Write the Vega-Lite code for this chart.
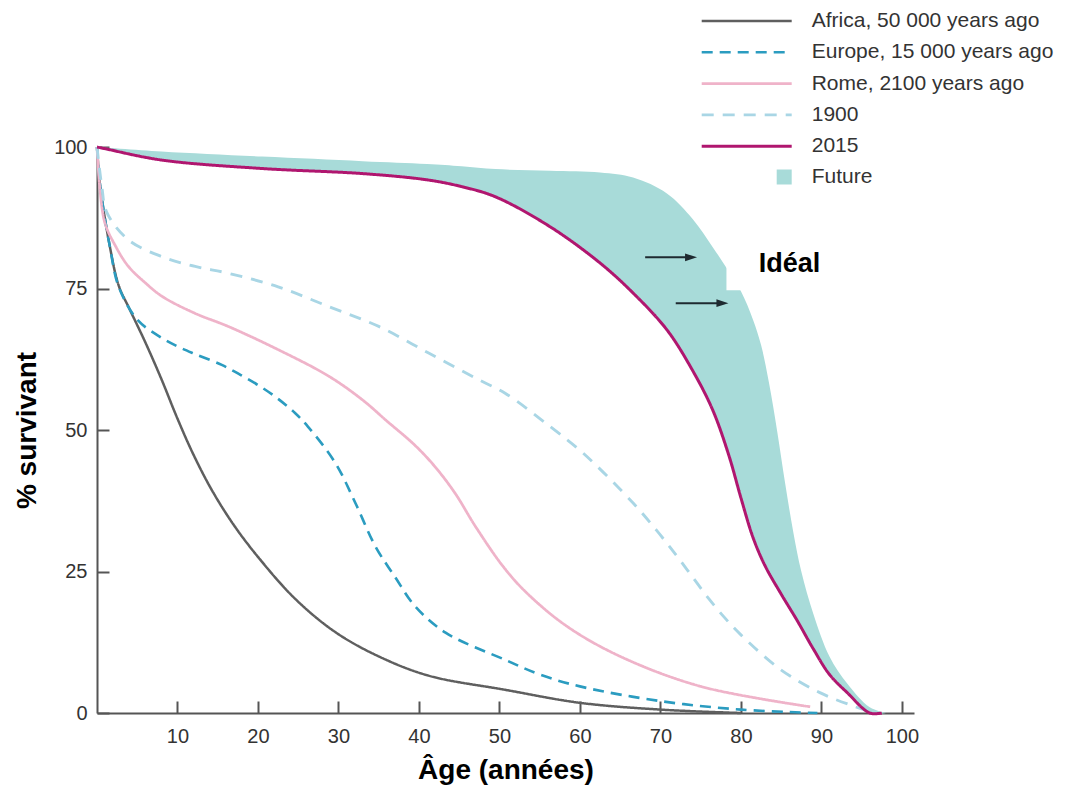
{
  "$schema": "https://vega.github.io/schema/vega-lite/v6.json",
  "width": 817,
  "height": 566,
  "autosize": "none",
  "padding": {"left": 97, "top": 147, "right": 160, "bottom": 76},
  "background": "white",
  "config": {
    "view": {"stroke": null},
    "font": "Liberation Sans",
    "axis": {
      "grid": false,
      "domainColor": "#555555",
      "domainWidth": 2,
      "tickColor": "#555555",
      "tickWidth": 2,
      "tickSize": -12,
      "labelFont": "Liberation Sans",
      "labelFontSize": 20,
      "labelColor": "#333333",
      "labelPadding": 22,
      "titleFont": "Liberation Sans",
      "titleFontSize": 28,
      "titleFontWeight": "bold",
      "titleColor": "#000000"
    }
  },
  "datasets": {
    "curves": [
      {"series": "Africa, 50 000 years ago", "age": 0, "pct": 100},
      {"series": "Africa, 50 000 years ago", "age": 0.4, "pct": 93},
      {"series": "Africa, 50 000 years ago", "age": 1.6, "pct": 82.4},
      {"series": "Africa, 50 000 years ago", "age": 2.7, "pct": 75.5},
      {"series": "Africa, 50 000 years ago", "age": 4, "pct": 71.5},
      {"series": "Africa, 50 000 years ago", "age": 6, "pct": 65.5},
      {"series": "Africa, 50 000 years ago", "age": 8, "pct": 59},
      {"series": "Africa, 50 000 years ago", "age": 10, "pct": 52},
      {"series": "Africa, 50 000 years ago", "age": 12, "pct": 45.6},
      {"series": "Africa, 50 000 years ago", "age": 14.3, "pct": 39.3},
      {"series": "Africa, 50 000 years ago", "age": 17, "pct": 33.2},
      {"series": "Africa, 50 000 years ago", "age": 20.1, "pct": 27.4},
      {"series": "Africa, 50 000 years ago", "age": 24.6, "pct": 20.2},
      {"series": "Africa, 50 000 years ago", "age": 29.6, "pct": 14.3},
      {"series": "Africa, 50 000 years ago", "age": 35, "pct": 10},
      {"series": "Africa, 50 000 years ago", "age": 41.2, "pct": 6.6},
      {"series": "Africa, 50 000 years ago", "age": 50.7, "pct": 4.1},
      {"series": "Africa, 50 000 years ago", "age": 60, "pct": 1.8},
      {"series": "Africa, 50 000 years ago", "age": 70, "pct": 0.6},
      {"series": "Africa, 50 000 years ago", "age": 80, "pct": 0},

      {"series": "Europe, 15 000 years ago", "age": 0, "pct": 100},
      {"series": "Europe, 15 000 years ago", "age": 0.4, "pct": 93},
      {"series": "Europe, 15 000 years ago", "age": 1.6, "pct": 82.4},
      {"series": "Europe, 15 000 years ago", "age": 2.7, "pct": 75.3},
      {"series": "Europe, 15 000 years ago", "age": 5, "pct": 69.5},
      {"series": "Europe, 15 000 years ago", "age": 8, "pct": 66.3},
      {"series": "Europe, 15 000 years ago", "age": 10.1, "pct": 64.7},
      {"series": "Europe, 15 000 years ago", "age": 12.2, "pct": 63.4},
      {"series": "Europe, 15 000 years ago", "age": 15.5, "pct": 61.5},
      {"series": "Europe, 15 000 years ago", "age": 18, "pct": 59.6},
      {"series": "Europe, 15 000 years ago", "age": 20.5, "pct": 57.5},
      {"series": "Europe, 15 000 years ago", "age": 22.5, "pct": 55.5},
      {"series": "Europe, 15 000 years ago", "age": 24.6, "pct": 53},
      {"series": "Europe, 15 000 years ago", "age": 26.2, "pct": 50.6},
      {"series": "Europe, 15 000 years ago", "age": 29.6, "pct": 44.2},
      {"series": "Europe, 15 000 years ago", "age": 32.1, "pct": 37.1},
      {"series": "Europe, 15 000 years ago", "age": 34.6, "pct": 29.4},
      {"series": "Europe, 15 000 years ago", "age": 37, "pct": 24.1},
      {"series": "Europe, 15 000 years ago", "age": 39.5, "pct": 18.9},
      {"series": "Europe, 15 000 years ago", "age": 43.3, "pct": 14.2},
      {"series": "Europe, 15 000 years ago", "age": 50.7, "pct": 9.4},
      {"series": "Europe, 15 000 years ago", "age": 55, "pct": 6.8},
      {"series": "Europe, 15 000 years ago", "age": 60, "pct": 4.7},
      {"series": "Europe, 15 000 years ago", "age": 70, "pct": 2.1},
      {"series": "Europe, 15 000 years ago", "age": 80, "pct": 0.6},
      {"series": "Europe, 15 000 years ago", "age": 89.5, "pct": 0},

      {"series": "Rome, 2100 years ago", "age": 0, "pct": 100},
      {"series": "Rome, 2100 years ago", "age": 0.4, "pct": 92},
      {"series": "Rome, 2100 years ago", "age": 1, "pct": 86.5},
      {"series": "Rome, 2100 years ago", "age": 2.3, "pct": 82.5},
      {"series": "Rome, 2100 years ago", "age": 3.9, "pct": 78.9},
      {"series": "Rome, 2100 years ago", "age": 6, "pct": 76},
      {"series": "Rome, 2100 years ago", "age": 8.1, "pct": 73.6},
      {"series": "Rome, 2100 years ago", "age": 12.2, "pct": 70.6},
      {"series": "Rome, 2100 years ago", "age": 16.3, "pct": 68.3},
      {"series": "Rome, 2100 years ago", "age": 22.5, "pct": 64.2},
      {"series": "Rome, 2100 years ago", "age": 28.8, "pct": 59.5},
      {"series": "Rome, 2100 years ago", "age": 33, "pct": 55.3},
      {"series": "Rome, 2100 years ago", "age": 36, "pct": 51.6},
      {"series": "Rome, 2100 years ago", "age": 39.5, "pct": 47.3},
      {"series": "Rome, 2100 years ago", "age": 42, "pct": 43.5},
      {"series": "Rome, 2100 years ago", "age": 44.5, "pct": 38.8},
      {"series": "Rome, 2100 years ago", "age": 47, "pct": 33},
      {"series": "Rome, 2100 years ago", "age": 50.5, "pct": 25.8},
      {"series": "Rome, 2100 years ago", "age": 53.4, "pct": 21.2},
      {"series": "Rome, 2100 years ago", "age": 58.4, "pct": 15.3},
      {"series": "Rome, 2100 years ago", "age": 65, "pct": 10},
      {"series": "Rome, 2100 years ago", "age": 75, "pct": 4.7},
      {"series": "Rome, 2100 years ago", "age": 88.6, "pct": 1.1},

      {"series": "1900", "age": 0, "pct": 100},
      {"series": "1900", "age": 0.6, "pct": 93},
      {"series": "1900", "age": 1.2, "pct": 88.5},
      {"series": "1900", "age": 3.9, "pct": 83.6},
      {"series": "1900", "age": 8.1, "pct": 80.6},
      {"series": "1900", "age": 12.2, "pct": 78.9},
      {"series": "1900", "age": 16.3, "pct": 77.7},
      {"series": "1900", "age": 22.5, "pct": 75.3},
      {"series": "1900", "age": 28.8, "pct": 71.8},
      {"series": "1900", "age": 35, "pct": 68.3},
      {"series": "1900", "age": 41.2, "pct": 63.6},
      {"series": "1900", "age": 47.4, "pct": 58.9},
      {"series": "1900", "age": 50.7, "pct": 56.5},
      {"series": "1900", "age": 56.3, "pct": 50.6},
      {"series": "1900", "age": 60.4, "pct": 45.9},
      {"series": "1900", "age": 66.6, "pct": 37.1},
      {"series": "1900", "age": 69.5, "pct": 32.3},
      {"series": "1900", "age": 72, "pct": 27.8},
      {"series": "1900", "age": 74, "pct": 24},
      {"series": "1900", "age": 76, "pct": 20.2},
      {"series": "1900", "age": 78, "pct": 16.8},
      {"series": "1900", "age": 80, "pct": 13.8},
      {"series": "1900", "age": 84.9, "pct": 7.7},
      {"series": "1900", "age": 89.8, "pct": 3.6},
      {"series": "1900", "age": 94, "pct": 1.2},
      {"series": "1900", "age": 96.5, "pct": 0},

      {"series": "2015", "age": 0, "pct": 100},
      {"series": "2015", "age": 1, "pct": 99.7},
      {"series": "2015", "age": 8, "pct": 97.7},
      {"series": "2015", "age": 20.5, "pct": 96.2},
      {"series": "2015", "age": 33, "pct": 95.3},
      {"series": "2015", "age": 41, "pct": 94.2},
      {"series": "2015", "age": 45.3, "pct": 93},
      {"series": "2015", "age": 49.5, "pct": 91.2},
      {"series": "2015", "age": 56.3, "pct": 85.9},
      {"series": "2015", "age": 62.5, "pct": 79.5},
      {"series": "2015", "age": 66.6, "pct": 74.2},
      {"series": "2015", "age": 70.8, "pct": 67.7},
      {"series": "2015", "age": 74, "pct": 60.5},
      {"series": "2015", "age": 76.5, "pct": 53.5},
      {"series": "2015", "age": 78.5, "pct": 45.5},
      {"series": "2015", "age": 80, "pct": 38},
      {"series": "2015", "age": 81.5, "pct": 31},
      {"series": "2015", "age": 83, "pct": 26},
      {"series": "2015", "age": 85, "pct": 21},
      {"series": "2015", "age": 87, "pct": 16.3},
      {"series": "2015", "age": 89, "pct": 11.3},
      {"series": "2015", "age": 91, "pct": 6.8},
      {"series": "2015", "age": 93.2, "pct": 3.6},
      {"series": "2015", "age": 96, "pct": 0},
      {"series": "2015", "age": 97.5, "pct": 0}
    ],
    "future": [
      {"series": "Future", "age": 0, "low": 100, "high": 100},
      {"series": "Future", "age": 8, "low": 97.7, "high": 99.2},
      {"series": "Future", "age": 20.5, "low": 96.2, "high": 98.3},
      {"series": "Future", "age": 33, "low": 95.3, "high": 97.5},
      {"series": "Future", "age": 41, "low": 94.2, "high": 97},
      {"series": "Future", "age": 45.3, "low": 93, "high": 96.6},
      {"series": "Future", "age": 49.5, "low": 91.2, "high": 96.1},
      {"series": "Future", "age": 56.3, "low": 85.9, "high": 95.8},
      {"series": "Future", "age": 62.5, "low": 79.5, "high": 95.5},
      {"series": "Future", "age": 66.6, "low": 74.2, "high": 94.6},
      {"series": "Future", "age": 70.8, "low": 67.7, "high": 91.8},
      {"series": "Future", "age": 74, "low": 60.5, "high": 87.3},
      {"series": "Future", "age": 76.5, "low": 53.5, "high": 82.3},
      {"series": "Future", "age": 78.5, "low": 45.5, "high": 78},
      {"series": "Future", "age": 80, "low": 38, "high": 74.5},
      {"series": "Future", "age": 81.5, "low": 31, "high": 69.5},
      {"series": "Future", "age": 82.5, "low": 27.6, "high": 65},
      {"series": "Future", "age": 83.5, "low": 24.7, "high": 58.2},
      {"series": "Future", "age": 84.5, "low": 22.2, "high": 49.8},
      {"series": "Future", "age": 85.5, "low": 19.8, "high": 40.5},
      {"series": "Future", "age": 86.5, "low": 17.5, "high": 32},
      {"series": "Future", "age": 87.5, "low": 15.1, "high": 25},
      {"series": "Future", "age": 89, "low": 11.3, "high": 17.5},
      {"series": "Future", "age": 91, "low": 6.8, "high": 10},
      {"series": "Future", "age": 93.2, "low": 3.6, "high": 5.2},
      {"series": "Future", "age": 96, "low": 0, "high": 1},
      {"series": "Future", "age": 98, "low": 0, "high": 0}
    ],
    "arrows": [
      {"x1": 68.1, "x2": 73.3, "y": 80.5, "head": 73.8},
      {"x1": 71.9, "x2": 77.2, "y": 72.4, "head": 77.7}
    ],
    "mask": [
      {"x1": 78.2, "x2": 88, "y1": 74.7, "y2": 81.8}
    ],
    "labels": [
      {"age": 82.2, "pct": 79.3, "text": "Idéal"}
    ]
  },
  "layer": [
    {
      "data": {"name": "future"},
      "mark": {"type": "area", "interpolate": "catmull-rom"},
      "encoding": {
        "x": {"field": "age", "type": "quantitative", "scale": {"domain": [0, 101.5], "nice": false, "zero": false},
              "axis": {"values": [10, 20, 30, 40, 50, 60, 70, 80, 90, 100], "title": "Âge (années)", "titlePadding": 10, "labelPadding": 25}},
        "y": {"field": "high", "type": "quantitative", "scale": {"domain": [0, 100], "nice": false},
              "axis": {"values": [0, 25, 50, 75, 100], "title": "% survivant", "titlePadding": 12}},
        "y2": {"field": "low"},
        "fill": {"field": "series", "type": "nominal",
                 "scale": {"domain": ["Future"], "range": ["#a8dbd9"]},
                 "legend": {"title": null, "orient": "none", "legendX": 676.7, "legendY": 19.5, "padding": 0,
                            "symbolType": "square", "symbolSize": 225, "symbolStrokeWidth": 0, "labelOffset": 17,
                            "labelFont": "Liberation Sans", "labelFontSize": 21, "labelColor": "#333333"}}
      }
    },
    {
      "data": {"name": "mask"},
      "mark": {"type": "rect", "fill": "white"},
      "encoding": {
        "x": {"field": "x1", "type": "quantitative"},
        "x2": {"field": "x2"},
        "y": {"field": "y1", "type": "quantitative"},
        "y2": {"field": "y2"}
      }
    },
    {
      "data": {"name": "curves"},
      "mark": {"type": "line", "interpolate": "catmull-rom"},
      "encoding": {
        "x": {"field": "age", "type": "quantitative"},
        "y": {"field": "pct", "type": "quantitative"},
        "stroke": {"field": "series", "type": "nominal",
                   "scale": {"domain": ["Africa, 50 000 years ago", "Europe, 15 000 years ago", "Rome, 2100 years ago", "1900", "2015"],
                             "range": ["#5f5f5f", "#2b9cc0", "#efb3c9", "#a9d6e5", "#b0166f"]},
                   "legend": {"title": null, "orient": "none", "legendX": 639.2, "legendY": -136.5, "padding": 0,
                              "symbolType": "M-9,0H9", "symbolSize": 100, "labelOffset": 54.5, "rowPadding": 9.3,
                              "labelFont": "Liberation Sans", "labelFontSize": 21, "labelColor": "#333333", "labelLimit": 400}},
        "strokeDash": {"field": "series", "type": "nominal",
                       "scale": {"domain": ["Africa, 50 000 years ago", "Europe, 15 000 years ago", "Rome, 2100 years ago", "1900", "2015"],
                                 "range": [[1, 0], [11, 7], [1, 0], [12, 9], [1, 0]]}},
        "strokeWidth": {"field": "series", "type": "nominal",
                        "scale": {"domain": ["Africa, 50 000 years ago", "Europe, 15 000 years ago", "Rome, 2100 years ago", "1900", "2015"],
                                  "range": [2.5, 3, 2, 2.5, 3]}}
      }
    },
    {
      "data": {"name": "arrows"},
      "mark": {"type": "rule", "color": "#1e2a30", "strokeWidth": 2},
      "encoding": {
        "x": {"field": "x1", "type": "quantitative"},
        "x2": {"field": "x2"},
        "y": {"field": "y", "type": "quantitative"}
      }
    },
    {
      "data": {"name": "arrows"},
      "mark": {"type": "point", "shape": "M-1,-0.65L1,0L-1,0.65Z", "filled": true, "size": 144, "color": "#1e2a30", "opacity": 1},
      "encoding": {
        "x": {"field": "head", "type": "quantitative"},
        "y": {"field": "y", "type": "quantitative"}
      }
    },
    {
      "data": {"name": "labels"},
      "mark": {"type": "text", "align": "left", "baseline": "middle", "font": "Liberation Sans", "fontSize": 27, "fontWeight": "bold", "color": "#000000"},
      "encoding": {
        "x": {"field": "age", "type": "quantitative"},
        "y": {"field": "pct", "type": "quantitative"},
        "text": {"field": "text"}
      }
    }
  ]
}
